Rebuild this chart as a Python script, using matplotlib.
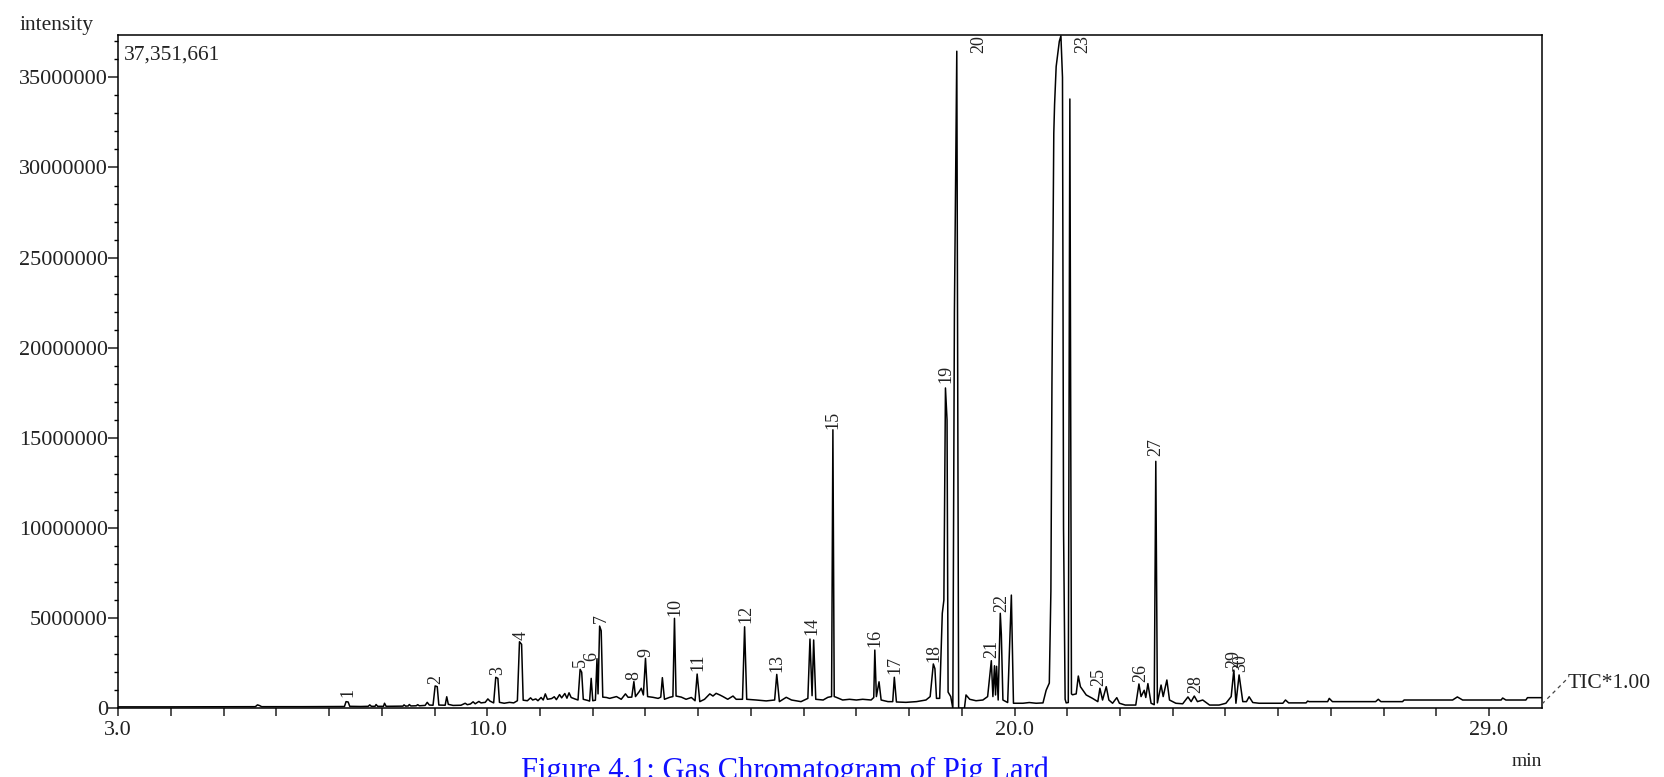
import numpy as np
import matplotlib
matplotlib.use("Agg")
import matplotlib.pyplot as plt
from matplotlib.lines import Line2D

plt.rcParams['font.family'] = ['Liberation Serif', 'DejaVu Serif']

# TIC trace: retention time (min), intensity (millions)
rt = [3.00, 4.00, 5.00, 5.60, 5.64, 5.68, 5.72, 6.50, 7.00, 7.29, 7.32, 7.36, 7.39,
      7.60, 7.74, 7.77, 7.80, 7.87, 7.89, 7.92, 8.03, 8.05, 8.08, 8.40, 8.42, 8.45,
      8.50, 8.52, 8.55, 8.65, 8.68, 8.71, 8.82, 8.86, 8.90, 8.97, 9.01, 9.05, 9.08,
      9.20, 9.23, 9.26, 9.35, 9.50, 9.58, 9.62, 9.68, 9.73, 9.77, 9.84, 9.88, 9.96,
      10.01, 10.05, 10.12, 10.16, 10.20, 10.23, 10.32, 10.42, 10.50, 10.57, 10.61,
      10.65, 10.68, 10.76, 10.82, 10.86, 10.92, 10.96, 11.02, 11.06, 11.10, 11.14,
      11.22, 11.27, 11.31, 11.37, 11.41, 11.47, 11.51, 11.55, 11.59, 11.66, 11.72,
      11.76, 11.79, 11.82, 11.90, 11.94, 11.97, 12.00, 12.05, 12.08, 12.10, 12.13,
      12.16, 12.19, 12.26, 12.32, 12.45, 12.54, 12.62, 12.67, 12.74, 12.78, 12.81,
      12.88, 12.92, 12.96, 13.00, 13.04, 13.14, 13.24, 13.29, 13.32, 13.36, 13.46,
      13.52, 13.55, 13.58, 13.68, 13.77, 13.87, 13.94, 13.98, 14.03, 14.12, 14.22,
      14.28, 14.34, 14.41, 14.47, 14.56, 14.66, 14.72, 14.84, 14.88, 14.92, 15.10,
      15.29, 15.45, 15.49, 15.54, 15.67, 15.77, 15.95, 16.08, 16.12, 16.16, 16.19,
      16.23, 16.37, 16.46, 16.53, 16.555, 16.58, 16.61, 16.74, 16.87, 17.00, 17.12,
      17.28, 17.33, 17.35, 17.38, 17.43, 17.47, 17.60, 17.69, 17.72, 17.76, 17.94,
      18.14, 18.32, 18.40, 18.46, 18.49, 18.52, 18.58, 18.63, 18.66, 18.69, 18.72,
      18.74, 18.79, 18.83, 18.86, 18.905, 18.94, 19.05, 19.08, 19.15, 19.27, 19.40,
      19.49, 19.56, 19.59, 19.62, 19.64, 19.66, 19.69, 19.73, 19.75, 19.78, 19.87,
      19.94, 19.98, 20.16, 20.28, 20.41, 20.54, 20.60, 20.66, 20.69, 20.71, 20.745,
      20.76, 20.79, 20.85, 20.88, 20.91, 20.93, 20.96, 20.98, 21.02, 21.05, 21.08,
      21.10, 21.17, 21.21, 21.25, 21.36, 21.48, 21.58, 21.62, 21.67, 21.74, 21.79,
      21.86, 21.94, 21.99, 22.10, 22.30, 22.36, 22.40, 22.46, 22.49, 22.53, 22.59,
      22.65, 22.68, 22.71, 22.78, 22.82, 22.89, 22.94, 23.06, 23.19, 23.29, 23.35,
      23.41, 23.47, 23.57, 23.70, 23.88, 24.01, 24.11, 24.16, 24.20, 24.26, 24.33,
      24.40, 24.45, 24.52, 24.64, 25.09, 25.14, 25.20, 25.53, 25.56, 25.59, 25.94,
      25.97, 26.03, 26.85, 26.90, 26.95, 27.36, 27.39, 28.31, 28.40, 28.50, 29.23,
      29.26, 29.32, 29.70, 29.73, 30.00]
tic = [0.08, 0.08, 0.09, 0.09, 0.19, 0.15, 0.09, 0.09, 0.10, 0.10, 0.37, 0.35, 0.11,
       0.10, 0.11, 0.19, 0.11, 0.11, 0.21, 0.11, 0.11, 0.28, 0.11, 0.12, 0.19, 0.12,
       0.13, 0.21, 0.13, 0.14, 0.20, 0.14, 0.16, 0.33, 0.18, 0.17, 1.24, 1.20, 0.18,
       0.17, 0.64, 0.22, 0.16, 0.17, 0.28, 0.20, 0.24, 0.36, 0.25, 0.38, 0.30, 0.33,
       0.52, 0.40, 0.30, 1.72, 1.66, 0.33, 0.28, 0.33, 0.30, 0.42, 3.69,
       3.55, 0.45, 0.42, 0.58, 0.46, 0.52, 0.42, 0.60, 0.46, 0.80, 0.50,
       0.54, 0.64, 0.48, 0.76, 0.58, 0.82, 0.56, 0.86, 0.60, 0.52, 0.46,
       2.16, 2.00, 0.50, 0.44, 0.40, 1.66, 0.42, 0.45, 2.75, 0.80, 4.56,
       4.30, 0.62, 0.60, 0.55, 0.65, 0.50, 0.80, 0.61, 0.62, 1.48, 0.65,
       0.92, 1.11, 0.74, 2.77, 0.65, 0.61, 0.55, 0.62, 1.70, 0.50, 0.61,
       0.65, 4.99, 0.68, 0.62, 0.50, 0.60, 0.42, 1.90, 0.37, 0.50, 0.80,
       0.68, 0.83, 0.74, 0.65, 0.50, 0.68, 0.50, 0.50, 4.52, 0.50, 0.46,
       0.41, 0.46, 1.88, 0.37, 0.61, 0.46, 0.37, 0.55, 3.84, 0.70, 3.79,
       0.50, 0.46, 0.61, 0.65, 15.45, 0.65, 0.62, 0.46, 0.50, 0.46, 0.50,
       0.46, 0.60, 3.23, 0.65, 1.47, 0.46, 0.37, 0.37, 1.72, 0.35, 0.33,
       0.37, 0.46, 0.65, 2.46, 2.20, 0.55, 0.55, 5.27, 6.00, 17.77, 16.00,
       0.90, 0.65, 0.00, 22.00, 36.45, 0.00, 0.00, 0.74, 0.50, 0.42, 0.46,
       0.65, 2.64, 0.65, 2.36, 0.74, 2.33, 0.46, 5.27, 4.10, 0.46, 0.32,
       6.28, 0.28, 0.28, 0.32, 0.28, 0.30, 1.00, 1.40, 6.50, 18.00, 31.90,
       33.50, 35.60, 37.00, 37.30, 35.00, 10.00, 0.50, 0.30, 0.32, 33.80, 0.80,
       0.75, 0.80, 1.79, 1.20, 0.74, 0.55, 0.37, 1.11, 0.46, 1.20, 0.46,
       0.28, 0.59, 0.28, 0.18, 0.18, 1.35, 0.65, 1.00, 0.60, 1.37, 0.28,
       0.20, 13.70, 0.30, 1.29, 0.65, 1.57, 0.46, 0.28, 0.25, 0.63, 0.37,
       0.68, 0.37, 0.46, 0.18, 0.18, 0.28, 0.65, 2.12, 0.28, 1.85, 0.37,
       0.37, 0.64, 0.32, 0.28, 0.28, 0.46, 0.30, 0.30, 0.40, 0.37, 0.37,
       0.55, 0.37, 0.37, 0.50, 0.37, 0.37, 0.46, 0.46, 0.63, 0.46, 0.46,
       0.57, 0.46, 0.46, 0.59, 0.59]

# peak numbers and where their labels sit (bottom of the text, millions)
peak_ids = ['1', '2', '3', '4', '5', '6', '7', '8', '9', '10', '11', '12', '13', '14',
            '15', '16', '17', '18', '19', '20', '21', '22', '23', '25', '26', '27',
            '28', '29', '30']
peak_rt = [7.35, 9.03, 10.20, 10.64, 11.77, 11.98, 12.17, 12.78, 13.00, 13.55, 14.00,
           14.90, 15.49, 16.16, 16.56, 17.36, 17.74, 18.48, 18.69, 19.32, 19.56, 19.75,
           21.29, 21.60, 22.40, 22.68, 23.44, 24.16, 24.28]
peak_lab_y = [0.61, 1.35, 1.84, 3.79, 2.27, 2.65, 4.72, 1.55, 2.86, 5.12, 2.07, 4.71,
              2.03, 4.06, 15.52, 3.38, 1.93, 2.58, 18.02, 37.35, 2.77, 5.36, 37.35,
              1.25, 1.47, 14.00, 0.83, 2.25, 2.00]

x_ticks = list(range(3, 30))
x_labels = {3: '3.0', 10: '10.0', 20: '20.0', 29: '29.0'}

W, H = 1664, 777
fig = plt.figure(figsize=(W / 100, H / 100), dpi=100)
ax = fig.add_axes([118.3 / W, 1 - 708.3 / H, (1541.7 - 118.3) / W, (708.3 - 35) / H])

ax.plot(rt, np.array(tic) * 1e6, color='black', lw=1.1)

ax.set_xlim(3, 30)
ax.set_ylim(0, 37.35e6)

ax.set_xticks(x_ticks)
ax.set_xticklabels([x_labels.get(t, '') for t in x_ticks])
ax.set_yticks(np.arange(0, 35e6 + 1, 5e6))
ax.set_yticks(np.arange(0, 37.5e6, 1e6), minor=True)
ax.ticklabel_format(style='plain', axis='y', useOffset=False)

ax.tick_params(axis='y', which='major', direction='out', length=7, width=1.1,
               pad=0.5, labelsize=16, colors='#222222')
ax.tick_params(axis='y', which='minor', direction='out', length=3, width=1.0)
ax.tick_params(axis='x', which='major', direction='out', length=6, width=1.1,
               pad=3, labelsize=16, colors='#222222')
for s in ax.spines.values():
    s.set_linewidth(1.1)

for lab, x, y in zip(peak_ids, peak_rt, peak_lab_y):
    va = 'top' if y > 37 else 'bottom'
    ax.text(x, y * 1e6, lab, rotation=90, ha='center', va=va, fontsize=13,
            color='#222222')

ax.text(0.004, (708.3 - 60) / (708.3 - 35), '37,351,661', transform=ax.transAxes,
        ha='left', va='baseline', fontsize=15.5, color='#222222')

fig.text(20 / W, 1 - 30 / H, 'intensity', ha='left', va='baseline', fontsize=15.5,
         color='#222222')
fig.text(1542 / W, 1 - 762 / H, 'min', ha='right', va='center', fontsize=14,
         color='#222222')
fig.text(1568 / W, 1 - 684 / H, 'TIC*1.00', ha='left', va='center', fontsize=15.5,
         color='#222222')
fig.add_artist(Line2D([1542 / W, 1566 / W], [1 - 704 / H, 1 - 680 / H],
                      transform=fig.transFigure, color='#444444', lw=0.9,
                      linestyle=(0, (3, 3))))

fig.text(785 / W, 1 - 779 / H, 'Figure 4.1: Gas Chromatogram of Pig Lard',
         ha='center', va='baseline', fontsize=22, color='#1010ff')

fig.savefig('out.png', dpi=100)
